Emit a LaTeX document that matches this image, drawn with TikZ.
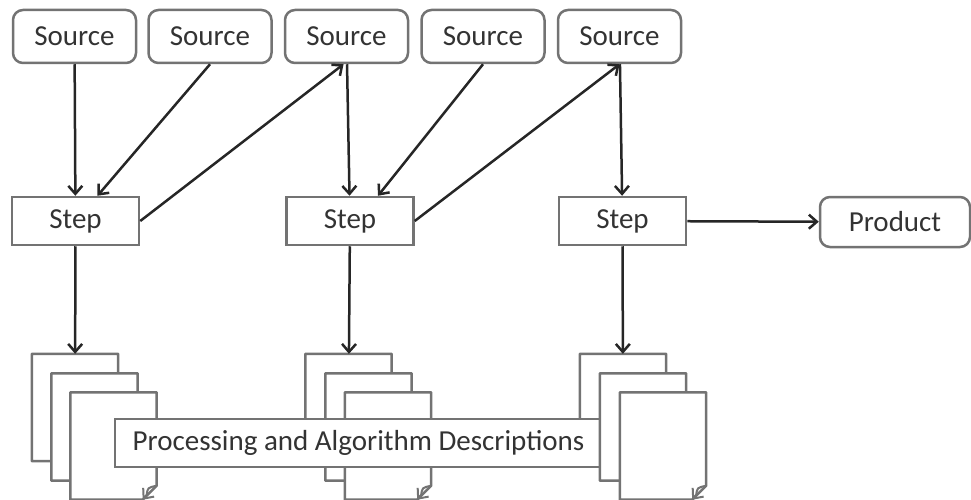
\documentclass[tikz,border=0pt]{standalone}
\usepackage{fontspec}
\setmainfont{Carlito}
\usetikzlibrary{arrows.meta}
\tikzset{
  box/.style = {align=center, inner sep=0pt, text centered,
    font=\fontsize{29}{34}\selectfont, text=black!80, draw=black!55,
    line width=2.5pt, fill=white},
  src_n/.style = {box, rounded corners=10pt, minimum width=123pt,
    minimum height=53pt},% source box
  step_n/.style = {box, minimum width=127pt, minimum height=48pt},% process step
  prod_n/.style = {box, rounded corners=10pt, minimum width=150pt,
    minimum height=50pt},% final product
  caption_n/.style = {box, minimum width=487pt, minimum height=48pt},% label over the sheets
  page_n/.style = {inner sep=0pt, minimum width=86pt, minimum height=107pt},% one sheet
  flow/.style = {draw=black!85, line width=2.5pt},
}
% one sheet with a folded corner
\newcommand{\docpage}[2]{%
  \node[page_n] (#1) at (#2) {};
  \filldraw[fill=white, draw=black!55, line width=2.5pt, line join=round]
    (#1.north west) -- (#1.north east) -- ([yshift=14pt]#1.south east)
    -- ([xshift=-14pt]#1.south east) -- (#1.south west) -- cycle;
  \draw[black!55, line width=2pt, line join=round]
    ([yshift=14pt]#1.south east) .. controls ([xshift=-9pt,yshift=12pt]#1.south east)
    .. ([xshift=-10pt,yshift=5pt]#1.south east) -- ([xshift=-14pt]#1.south east);
}

\begin{document}
\begin{tikzpicture}[x=1pt, y=-1pt, ->, >={Straight Barb[length=8pt,width=14pt]}]
\useasboundingbox (0,0) rectangle (971,500);

% sources
\node [src_n] (src1) at (74.5,36.5) {Source};
\node [src_n] (src2) at (210,36.5) {Source};
\node [src_n] (src3) at (346.5,36.5) {Source};
\node [src_n] (src4) at (483,36.5) {Source};
\node [src_n] (src5) at (619.5,36.5) {Source};

% steps and product
\node [step_n] (step1) at (75.5,221) {Step};
\node [step_n] (step2) at (350,221) {Step};
\node [step_n] (step3) at (622.5,221) {Step};
\node [prod_n] (prod) at (895,222) {Product};

% sheets
\docpage{doc1a}{75,407.5}
\docpage{doc1b}{[shift={(19.5,19.5)}]doc1a}
\docpage{doc1c}{[shift={(19,19)}]doc1b}
\docpage{doc2a}{348.5,407.5}
\docpage{doc2b}{[shift={(20,19.5)}]doc2a}
\docpage{doc2c}{[shift={(19.5,19)}]doc2b}
\docpage{doc3a}{623,407.5}
\node [caption_n] (desc) at (358.5,443) {Processing and Algorithm Descriptions};
\docpage{doc3b}{[shift={(20,19.5)}]doc3a}
\docpage{doc3c}{[shift={(20,19)}]doc3b}

% flow
\draw [flow] (src1) -- (step1);
\draw [flow] (src2.south) -- ([xshift=22pt]step1.north);
\draw [flow] (step1.east) -- ([xshift=-3pt]src3.south);
\draw [flow] (src3) -- (step2);
\draw [flow] (src4.south) -- ([xshift=28pt]step2.north);
\draw [flow] (step2.east) -- (src5.south);
\draw [flow] (src5) -- (step3);
\draw [flow] (step3) -- (prod);
\draw [flow] (step1) -- (doc1a);
\draw [flow] (step2) -- (doc2a);
\draw [flow] (step3) -- (doc3a);
\end{tikzpicture}
\end{document}
